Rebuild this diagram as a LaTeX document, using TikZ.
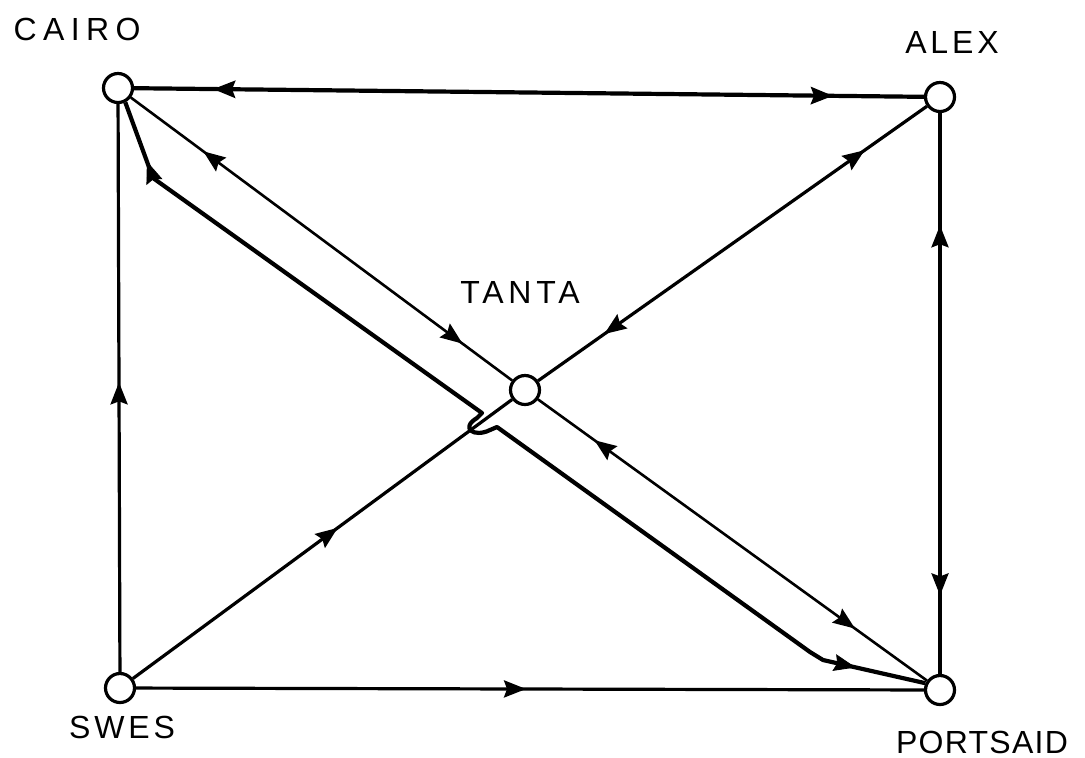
\documentclass[tikz,border=0pt]{standalone}
\usepackage{fontspec}
\setmainfont{Liberation Sans}
\newfontfamily\hand{Liberation Sans}
\usetikzlibrary{arrows.meta,decorations.markings}
\tikzset{
  ahead/.tip={Stealth[length=11pt,width=8.5pt,inset=1.5pt]},
  fwd/.style={postaction={decorate,decoration={markings,mark=at position #1 with {\arrow{ahead}}}}},
  bwd/.style={postaction={decorate,decoration={markings,mark=at position #1 with {\arrowreversed{ahead}}}}},
  stn/.style={circle,draw,line width=1.6pt,minimum size=14.5pt,inner sep=0pt,fill=white},
  road/.style={line width=1.6pt},
  thinroad/.style={line width=1.3pt},
  heavy/.style={line width=2.1pt,line join=round},
  lbl/.style={font=\hand\fontsize{16}{16}\selectfont,inner sep=0pt}
}
\begin{document}
\begin{tikzpicture}[x=0.5pt,y=-0.5pt]
\useasboundingbox (0,0) rectangle (1085,757);
% stations
\node[stn] (C) at (118,88) {};
\node[stn] (A) at (940,97) {};
\node[stn] (T) at (525,390) {};
\node[stn] (S) at (120,688) {};
\node[stn] (P) at (940,690) {};
% labels
\node[lbl] (lC) at (77,29) {\addfontfeature{LetterSpace=20}CAIRO};
\node[lbl] (lA) at (952,42) {\addfontfeature{LetterSpace=12}ALEX};
\node[lbl] (lT) at (520,292) {\addfontfeature{LetterSpace=15}TANTA};
\node[lbl] (lS) at (122,727) {\addfontfeature{LetterSpace=12}SWES};
\node[lbl] (lP) at (982,742) {\addfontfeature{LetterSpace=4}PORTSAID};
% roads
\draw[heavy,bwd=0.1,fwd=0.885] (C) -- (A);
\draw[road,bwd=0.2,fwd=0.86] (A) -- (P);
\draw[road,fwd=0.51] (S) -- (C);
\draw[road,fwd=0.495] (S) -- (P);
\draw[road,fwd=0.54] (S) -- (T);
\draw[road,bwd=0.17,fwd=0.84] (T) -- (A);
\draw[thinroad,bwd=0.19,fwd=0.87] (C) -- (T);
\draw[thinroad,bwd=0.145,fwd=0.815] (T) -- (P);
% heavy route Cairo -> Portsaid with hop
\coordinate (k1) at (153,178);
\coordinate (h1) at (482,413);
\coordinate (h2) at (477,418);
\coordinate (h3) at (490,430);
\coordinate (h4) at (497,427);
\coordinate (k2) at (810,652);
\coordinate (k3) at (823,660);
\draw[heavy] (C.-63) -- (k1) -- (h1) -- (h2) .. controls (460,428) and (474,438) .. (h3) -- (h4) -- (k2) -- (k3) -- (P.155);
\path[bwd=0.78] (C.-63) -- (k1);
\path[fwd=0.32] (k3) -- (P.155);
\end{tikzpicture}
\end{document}
